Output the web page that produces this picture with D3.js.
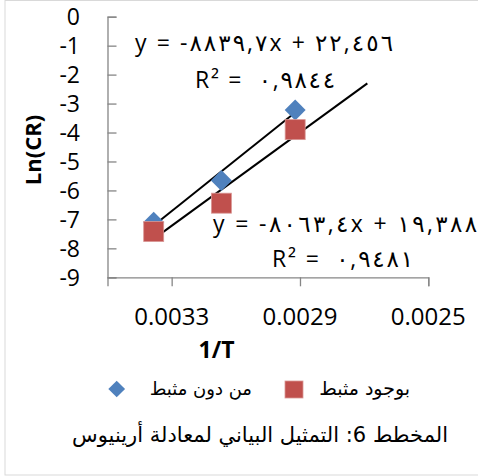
<!DOCTYPE html>
<html>
<head>
<meta charset="utf-8">
<script src="https://cdn.jsdelivr.net/npm/d3@7"></script>
<style>
  html, body { margin: 0; padding: 0; background: #fff; }
  svg { display: block; }
  text { font-family: "Open Sans", "DejaVu Sans", sans-serif; fill: #000; }
  .ar { font-family: "DejaVu Sans", sans-serif; }
</style>
</head>
<body>
<svg id="chart" width="478" height="476"></svg>
<script>
// Arrhenius plot: ln(corrosion rate) against 1/T, without and with inhibitor
const invT = [0.003356, 0.003145, 0.002915];
const lnCrBlank = [-7.10, -5.66, -3.22];
const lnCrInhib = [-7.42, -6.44, -3.90];

const seriesNames = ["من دون مثبط", "بوجود مثبط"];
const seriesColors = ["#4F81BD", "#C0504D"];

// linear trendlines (slope, intercept, R²) and where each line stops
const fitSlopes = [-8839.7, -8063.4];
const fitIntercepts = [22.456, 19.388];
const fitR2 = [0.9844, 0.9481];
const trendStart = [0.003356, 0.003356];
const trendEnd = [0.002915, 0.00269];

const xTicks = [0.0033, 0.0029, 0.0025];
const yTicks = [0, -1, -2, -3, -4, -5, -6, -7, -8, -9];

const xTitle = "1/T";
const yTitle = "Ln(CR)";
const caption = "المخطط 6: التمثيل البياني لمعادلة أرينيوس";

const svg = d3.select("#chart");

// outer frame
svg.append("rect").attr("x", 5).attr("y", 0.5).attr("width", 478).attr("height", 474.5)
  .attr("fill", "none").attr("stroke", "#d9d9d9").attr("stroke-width", 1);

const x = d3.scaleLinear().domain([0.0035, 0.0025]).range([107.5, 428.3]);
const y = d3.scaleLinear().domain([0, -9]).range([16.7, 277.3]);

const axisColor = "#868686";

// y axis: ticks point into the plot
const gy = svg.append("g").attr("transform", `translate(${x.range()[0]},0)`)
  .call(d3.axisRight(y).tickValues(yTicks).tickSize(9).tickFormat(""));
gy.select(".domain").attr("stroke", axisColor).attr("stroke-width", 1.3);
gy.selectAll(".tick line").attr("stroke", axisColor).attr("stroke-width", 1.3);

svg.append("g").selectAll("text").data(yTicks).join("text")
  .attr("x", 80).attr("y", d => y(d)).attr("dy", "0.36em")
  .attr("text-anchor", "end").attr("font-size", 23)
  .text(d => d === 0 ? "0" : "-" + Math.abs(d));

// x axis along the bottom
const gx = svg.append("g").attr("transform", `translate(0,${y.range()[1]})`)
  .call(d3.axisBottom(x).tickValues(xTicks).tickSize(9).tickFormat(""));
gx.select(".domain").attr("stroke", axisColor).attr("stroke-width", 1.3);
gx.selectAll(".tick line").attr("stroke", axisColor).attr("stroke-width", 1.3);

svg.append("g").selectAll("text").data(xTicks).join("text")
  .attr("x", d => x(d)).attr("y", 325)
  .attr("text-anchor", "middle").attr("font-size", 24)
  .text(d => d3.format(".4f")(d));

// axis titles
svg.append("text").attr("x", 216.5).attr("y", 358)
  .attr("text-anchor", "middle").attr("font-size", 23).attr("font-weight", "bold")
  .text(xTitle);
svg.append("text").attr("transform", "translate(41,150) rotate(-90)")
  .attr("text-anchor", "middle").attr("font-size", 22).attr("font-weight", "bold")
  .text(yTitle);

// trendlines
const fits = fitSlopes.map((m, i) => ({ m, b: fitIntercepts[i], x0: trendStart[i], x1: trendEnd[i] }));
svg.append("g").selectAll("line").data(fits).join("line")
  .attr("x1", d => x(d.x0)).attr("y1", d => y(d.m * d.x0 + d.b))
  .attr("x2", d => x(d.x1)).attr("y2", d => y(d.m * d.x1 + d.b))
  .attr("stroke", "#000").attr("stroke-width", 2);

// markers
const blankPts = invT.map((v, i) => [v, lnCrBlank[i]]);
const inhibPts = invT.map((v, i) => [v, lnCrInhib[i]]);

svg.append("g").selectAll("path").data(blankPts).join("path")
  .attr("d", d3.symbol().type(d3.symbolSquare).size(220)())
  .attr("transform", d => `translate(${x(d[0])},${y(d[1])}) rotate(45)`)
  .attr("fill", seriesColors[0]);

svg.append("g").selectAll("rect").data(inhibPts).join("rect")
  .attr("x", d => x(d[0]) - 10).attr("y", d => y(d[1]) - 10)
  .attr("width", 20).attr("height", 20)
  .attr("fill", seriesColors[1]).attr("stroke", "#d99795").attr("stroke-width", 0.8);

// trendline equations written with Arabic-Indic digits and a comma decimal mark
const arDigits = "٠١٢٣٤٥٦٧٨٩";
const toAr = s => s.replace(/[0-9]/g, c => arDigits[+c]).replace(".", ",");
const eqText = i => "y = -" + toAr(String(Math.abs(fitSlopes[i]))) + "x + " + toAr(String(fitIntercepts[i]));
const r2Text = i => "R² =  " + toAr(String(fitR2[i]));

const eqPos = [
  { ex: 135, ey: 51, ew: 258, rx: 195, ry: 88, rw: 140 },
  { ex: 213, ey: 232, ew: 264, rx: 272, ry: 267, rw: 141 }
];
eqPos.forEach((p, i) => {
  svg.append("text").attr("x", p.ex).attr("y", p.ey).attr("font-size", 23)
    .attr("direction", "ltr").attr("unicode-bidi", "bidi-override")
    .attr("textLength", p.ew).attr("lengthAdjust", "spacing")
    .style("white-space", "pre").text(eqText(i));
  svg.append("text").attr("x", p.rx).attr("y", p.ry).attr("font-size", 23)
    .attr("direction", "ltr").attr("unicode-bidi", "bidi-override")
    .attr("textLength", p.rw).attr("lengthAdjust", "spacing")
    .style("white-space", "pre").text(r2Text(i));
});

// legend (Arabic labels right-aligned, in their natural right-to-left order)
svg.append("path")
  .attr("d", d3.symbol().type(d3.symbolSquare).size(140)())
  .attr("transform", "translate(116.7,389) rotate(45)")
  .attr("fill", seriesColors[0]);
svg.append("text").attr("class", "ar").attr("x", 252).attr("y", 395)
  .attr("text-anchor", "end").attr("font-size", 18)
  .text(seriesNames[0]);
svg.append("rect").attr("x", 285).attr("y", 381).attr("width", 18).attr("height", 17)
  .attr("fill", seriesColors[1]).attr("stroke", "#d99795").attr("stroke-width", 0.8);
svg.append("text").attr("class", "ar").attr("x", 410).attr("y", 395)
  .attr("text-anchor", "end").attr("font-size", 19)
  .text(seriesNames[1]);

// figure caption
svg.append("text").attr("class", "ar").attr("x", 448).attr("y", 442)
  .attr("text-anchor", "end").attr("font-size", 21)
  .text(caption);
</script>
</body>
</html>
